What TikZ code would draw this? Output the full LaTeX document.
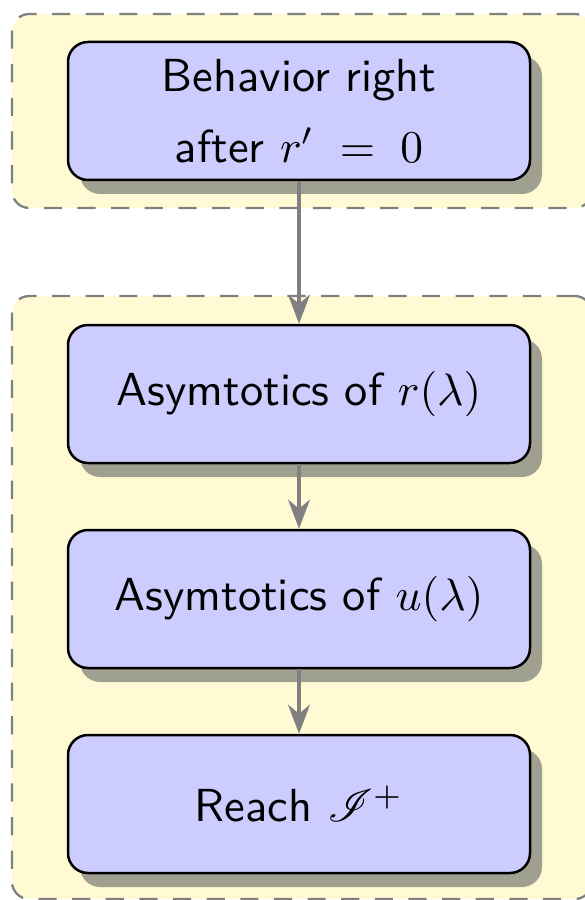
\documentclass[tikz,border=0pt]{standalone}
\usepackage{amsmath}
\usepackage{mathrsfs}
\usetikzlibrary{arrows.meta,shadows,fit,backgrounds}

\definecolor{boxfill}{RGB}{204,204,255}
\definecolor{groupfill}{RGB}{255,250,212}
\definecolor{shadowc}{RGB}{160,160,145}
\definecolor{linkc}{RGB}{128,128,128}
\definecolor{dashc}{RGB}{128,128,128}

\newdimen\u
\u=0.22pt

\tikzset{
  stepbox/.style={
    draw=black, line width=0.55pt, fill=boxfill,
    rounded corners=4.4pt,
    minimum width=462\u, minimum height=138\u,
    inner sep=0pt, align=center,
    font=\sffamily\fontsize{10.2}{15.6}\selectfont,
    drop shadow={shadow xshift=12\u, shadow yshift=-14\u,
                 fill=shadowc, opacity=1}
  },
  group/.style={
    draw=dashc, line width=0.5pt, dash pattern=on 4pt off 3.4pt,
    fill=groupfill, rounded corners=3.8pt, inner sep=0pt
  },
  link/.style={
    draw=linkc, line width=0.75pt,
    -{Stealth[length=6.4pt,width=4.8pt,inset=2pt]}
  }
}

\begin{document}
\begin{tikzpicture}[x=\u,y=-\u]
  \useasboundingbox (0,0) rectangle (584,900);

  \node[stepbox] (b1) at (299,111) {Behavior right\\ after $r'\;=\;0$};
  \node[stepbox] (b2) at (299,394) {Asymtotics of $r(\lambda)$};
  \node[stepbox] (b3) at (299,599) {Asymtotics of $u(\lambda)$};
  \node[stepbox] (b4) at (299,804) {Reach $\mathscr{I}^{+}$};

  % corners of the two dashed groups (the right side runs past the page)
  \coordinate (g1nw) at (12,14);
  \coordinate (g1se) at (592,208);
  \coordinate (g2nw) at (12,296);
  \coordinate (g2se) at (592,899);

  \begin{scope}[on background layer]
    \node[group, fit=(g1nw)(g1se)] (g1) {};
    \node[group, fit=(g2nw)(g2se)] (g2) {};
  \end{scope}

  \draw[link] (b1.south) -- (b2.north);
  \draw[link] (b2.south) -- (b3.north);
  \draw[link] (b3.south) -- (b4.north);
\end{tikzpicture}
\end{document}
